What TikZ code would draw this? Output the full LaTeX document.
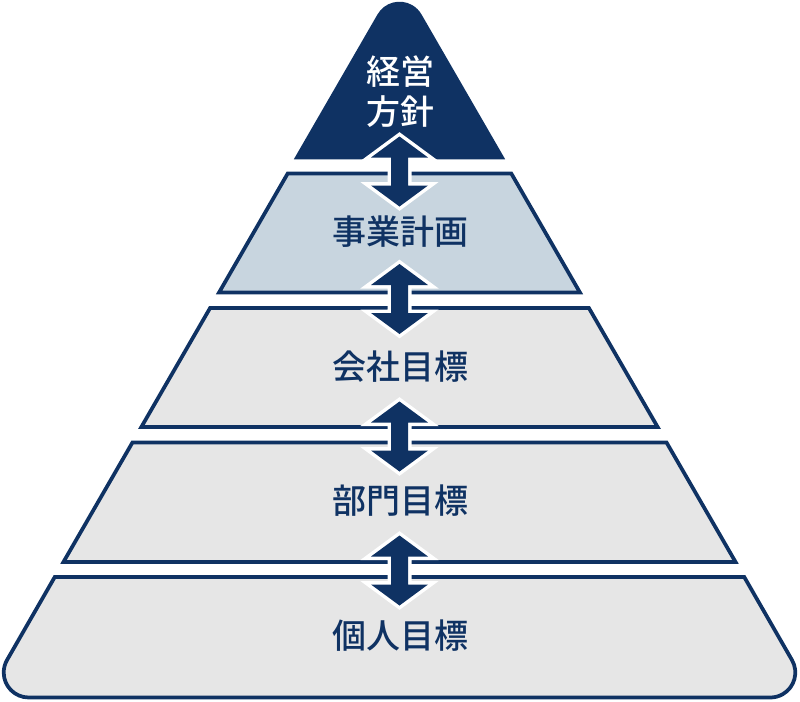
\documentclass[tikz,border=0pt]{standalone}
\usepackage{fontspec}
\newfontfamily\jp{Noto Sans CJK JP}[BoldFont={Noto Sans CJK JP Medium}]
\definecolor{navy}{HTML}{0F3263}
\definecolor{paleblue}{HTML}{C8D5DF}
\definecolor{palegray}{HTML}{E6E6E6}
\tikzset{
  band/.style={draw=navy, line width=2.8pt, line join=miter},
  dblarrow/.style={fill=navy, preaction={draw=white, line width=5.25pt, line join=miter}},
  lbl/.style={font=\jp\bfseries\fontsize{25.5}{30}\selectfont, text=navy, inner sep=0pt, align=center},
  updown/.pic={
    \path[dblarrow] (0,-35) -- (28.5,-14) -- (8.5,-14) -- (8.5,14) -- (28.5,14) -- (0,35)
      -- (-28.5,14) -- (-8.5,14) -- (-8.5,-14) -- (-28.5,-14) -- cycle;
  }
}
\begin{document}
\begin{tikzpicture}[x=0.75pt,y=-0.75pt]
\useasboundingbox (0,0) rectangle (800,701);
% top triangle
\fill[navy] (293.8,159.3) -- (377.5,14.4) arc[start angle=210,end angle=330,radius=25.4] -- (505.2,159.3) -- cycle;
% bands
\draw[band, fill=paleblue] (287.7,173.5) -- (511.3,173.5) -- (579.9,292.4) -- (219.1,292.4) -- cycle;
\draw[band, fill=palegray] (210.1,308) -- (588.9,308) -- (657.7,427.1) -- (141.3,427.1) -- cycle;
\draw[band, fill=palegray] (132.4,442.6) -- (666.6,442.6) -- (735.5,561.9) -- (63.5,561.9) -- cycle;
\draw[band, fill=palegray] (54.7,577.1) -- (744.3,577.1) -- (791.95,660)
  arc[start angle=-30,end angle=90,radius=25] -- (28.7,697.5)
  arc[start angle=90,end angle=210,radius=25] -- cycle;
% arrows
\pic (a1) at (399.5,171.5) {updown};
\pic (a2) at (399.5,299) {updown};
\pic (a3) at (399.5,436.5) {updown};
\pic (a4) at (399.5,570.5) {updown};
% labels
\node[lbl, text=white] (t1) at (400,92) {経営\\方針};
\node[lbl] (t2) at (400,232) {事業計画};
\node[lbl] (t3) at (400,367) {会社目標};
\node[lbl] (t4) at (400,501) {部門目標};
\node[lbl] (t5) at (400,636) {個人目標};
\end{tikzpicture}
\end{document}
